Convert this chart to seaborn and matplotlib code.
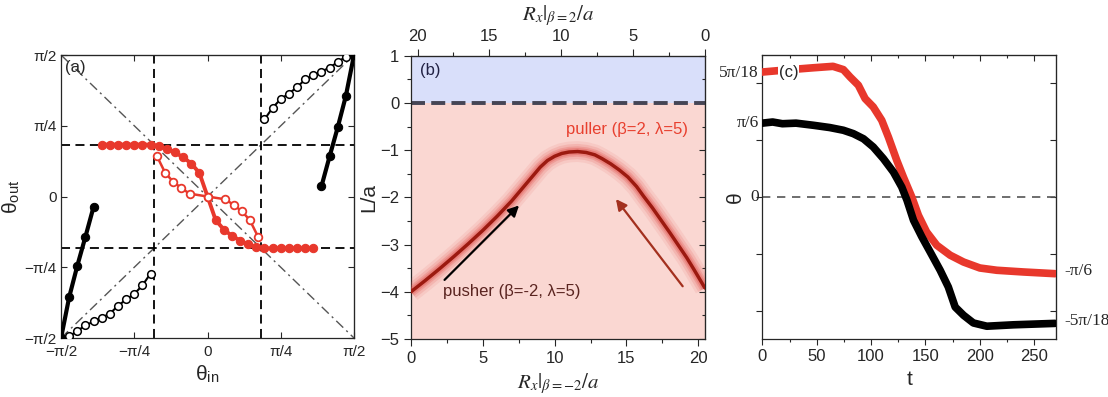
import numpy as np
import matplotlib
matplotlib.use("Agg")
import matplotlib.pyplot as plt
import matplotlib.transforms as mtrans
import seaborn as sns

sns.set_style("ticks")
plt.rcParams['font.family'] = ['Liberation Sans', 'DejaVu Sans']
plt.rcParams['mathtext.fontset'] = 'stix'

# ---- panel (a) data, degrees ----
red_fill_x = [-65, -60, -55, -50, -45, -40, -35, -30, -25, -20, -15, -10, -5, 0,
              5, 10, 15, 20, 25, 30, 35, 40, 45, 50, 55, 60, 65]
red_fill_y = [33, 33, 33, 33, 33, 33, 33, 32, 30.5, 28, 25, 21, 15, 0,
              -15, -21, -25, -28, -30.5, -32, -33, -33, -33, -33, -33, -33, -33]
red_open_x = [-31, -26, -21, -16, -11, 0, 11, 16, 21, 26, 31]
red_open_y = [25.5, 15, 9.3, 5.3, 1.8, 0, -1.8, -5.3, -9.3, -15, -25.5]
blk_fill_lx = [-90, -85, -80, -75, -70]
blk_fill_ly = [-90, -64, -44, -25.5, -6.5]
blk_fill_rx = [70, 75, 80, 85, 90]
blk_fill_ry = [6.5, 25.5, 44, 64, 90]
blk_open_lx = [-90, -85, -80, -75, -70, -65, -60, -55, -50, -45, -40, -35]
blk_open_ly = [-90, -89, -85.5, -82, -79.5, -77, -74.5, -69.5, -65.5, -62, -56.5, -49]
blk_open_rx = [35, 40, 45, 50, 55, 60, 65, 70, 75, 80, 85, 90]
blk_open_ry = [49, 56.5, 62, 65.5, 69.5, 74.5, 77, 79.5, 82, 85.5, 89, 90]
crit = 33
ticks_a = [-90, -45, 0, 45, 90]
ticklab_a = ['\u2212\u03c0/2', '\u2212\u03c0/4', '0', '\u03c0/4', '\u03c0/2']

# ---- panel (b) data ----
rx = [0, 1, 2, 3, 4, 5, 6, 7, 8, 9, 9.5, 10, 10.5, 11, 11.6, 12.2, 12.8, 13.3, 13.9,
      14.5, 15.1, 15.7, 16.2, 16.8, 17.4, 18, 18.6, 19.2, 19.7, 20.46]
La = [-4.0, -3.76, -3.51, -3.25, -2.98, -2.70, -2.40, -2.08, -1.72, -1.36, -1.22, -1.13,
      -1.07, -1.04, -1.03, -1.05, -1.10, -1.18, -1.29, -1.42, -1.57, -1.77, -1.98, -2.22,
      -2.48, -2.74, -3.01, -3.28, -3.53, -3.92]
rx_max = 20.46

# ---- panel (c) data (radians) ----
t_red = [0, 25.5, 47, 65, 74.5, 80.7, 88.3, 94.5, 102, 109.8, 116, 123.6, 129.7, 137.4,
         143.5, 151, 160.4, 172.7, 185, 200, 215.6, 240, 269]
th_red = [0.88, 0.897, 0.91, 0.92, 0.897, 0.845, 0.787, 0.693, 0.634, 0.54, 0.42, 0.258,
          0.14, 0.0, -0.129, -0.246, -0.34, -0.41, -0.458, -0.5, -0.516, -0.528, -0.54]
t_blk = [0, 9.5, 18.5, 31, 47, 62, 74.5, 83.7, 93, 102, 111.3, 120.5, 128.2, 133, 139,
         146.6, 154.3, 163.5, 171, 177.3, 185, 194, 206.4, 231, 269]
th_blk = [0.52, 0.528, 0.516, 0.52, 0.505, 0.489, 0.47, 0.446, 0.41, 0.352, 0.27, 0.176,
          0.07, -0.023, -0.164, -0.28, -0.387, -0.516, -0.634, -0.775, -0.833, -0.887,
          -0.91, -0.90, -0.89]
levels_left = [(50 * np.pi / 180, '5\u03c0/18'), (np.pi / 6, '\u03c0/6'), (0, '0')]
levels_right = [(-np.pi / 6, '-\u03c0/6'), (-50 * np.pi / 180, '-5\u03c0/18')]

RED = '#e8382c'
SERIF = ['Liberation Serif', 'DejaVu Serif']

fig = plt.figure(figsize=(11.08, 3.97), dpi=100)
axA = fig.add_axes([0.0551, 0.1486, 0.2644, 0.7128])
axB = fig.add_axes([0.3709, 0.1461, 0.2653, 0.7136])
axC = fig.add_axes([0.688, 0.1461, 0.2651, 0.7154])


def inward_twins(ax, xt=None, xminor=None, yt=None, yminor=None):
    # top / right tick marks pointing inward, no labels
    if xt is not None:
        tx = ax.secondary_xaxis('top')
        tx.set_xticks(xt)
        if xminor is not None:
            tx.set_xticks(xminor, minor=True)
        tx.tick_params(which='both', direction='in', labeltop=False, width=0.8)
        tx.tick_params(which='major', length=4)
        tx.tick_params(which='minor', length=2.5)
    if yt is not None:
        ty = ax.secondary_yaxis('right')
        ty.set_yticks(yt)
        if yminor is not None:
            ty.set_yticks(yminor, minor=True)
        ty.tick_params(which='both', direction='in', labelright=False, width=0.8)
        ty.tick_params(which='major', length=4)
        ty.tick_params(which='minor', length=2.5)


# ================= (a) =================
ax = axA
ax.plot([-90, 90], [-90, 90], color='#555555', lw=1, dashes=(7, 3, 1.5, 3))
ax.plot([-90, 90], [90, -90], color='#555555', lw=1, dashes=(7, 3, 1.5, 3))
for v in (-crit, crit):
    ax.axvline(v, color='black', lw=1.3, dashes=(5, 3))
    ax.axhline(v, color='black', lw=1.3, dashes=(5, 3))
sns.lineplot(x=red_fill_x, y=red_fill_y, ax=ax, sort=False, estimator=None, color=RED,
             lw=2.8, marker='o', markersize=6, markeredgecolor=RED, zorder=4)
sns.lineplot(x=red_open_x, y=red_open_y, ax=ax, sort=False, estimator=None, color=RED,
             lw=1.8, marker='o', markersize=5.5, markerfacecolor='white',
             markeredgecolor=RED, markeredgewidth=1.3, zorder=5)
for xs, ys in ((blk_open_lx, blk_open_ly), (blk_open_rx, blk_open_ry)):
    sns.lineplot(x=xs, y=ys, ax=ax, sort=False, estimator=None, color='black', lw=1.5,
                 marker='o', markersize=5.5, markerfacecolor='white',
                 markeredgecolor='black', markeredgewidth=1.1, zorder=5)
for xs, ys in ((blk_fill_lx, blk_fill_ly), (blk_fill_rx, blk_fill_ry)):
    sns.lineplot(x=xs, y=ys, ax=ax, sort=False, estimator=None, color='black', lw=3,
                 marker='o', markersize=6, markeredgecolor='black', zorder=6)
ax.set_xlim(-90, 90)
ax.set_ylim(-90, 90)
ax.set_xticks(ticks_a)
ax.set_xticklabels(ticklab_a, fontsize=11)
ax.set_yticks(ticks_a)
ax.set_yticklabels(ticklab_a, fontsize=11)
ax.tick_params(direction='in', length=4, width=0.8)
ax.tick_params(axis='x', pad=5)
ax.tick_params(axis='y', pad=3)
inward_twins(ax, xt=ticks_a, yt=ticks_a)
ax.set_xlabel('\u03b8$_\\mathregular{in}$', fontsize=15, labelpad=3)
ax.set_ylabel('\u03b8$_\\mathregular{out}$', fontsize=15, labelpad=2)
ax.text(-87.5, 82, '(a)', fontsize=12, va='center')
for s in ax.spines.values():
    s.set_linewidth(0.9)

# ================= (b) =================
ax = axB
ax.axhspan(0, 1, color='#d9dffa', lw=0, zorder=0)
ax.axhspan(-5, 0, color='#fad7d2', lw=0, zorder=0)
ax.axhline(0, color='#454555', lw=2.8, dashes=(3.6, 1.6), zorder=2)
for w, a in ((15, 0.10), (11, 0.16), (7.5, 0.24), (5, 0.35)):
    ax.plot(rx, La, color='#e0504a', lw=w, alpha=a, solid_capstyle='butt',
            solid_joinstyle='round', zorder=3)
sns.lineplot(x=rx, y=La, ax=ax, sort=False, estimator=None, color='#9c1a10', lw=2.5, zorder=4)
ax.annotate('', xy=(7.66, -2.13), xytext=(2.2, -3.79),
            arrowprops=dict(arrowstyle='-|>', color='black', lw=1.6, mutation_scale=16))
ax.annotate('', xy=(14.15, -1.99), xytext=(19.03, -3.93),
            arrowprops=dict(arrowstyle='-|>', color='#a3301e', lw=1.6, mutation_scale=16))
ax.text(10.8, -0.57, 'puller (\u03b2=2, \u03bb=5)', color='#e8402f', fontsize=12, va='center')
ax.text(2.2, -4.0, 'pusher (\u03b2=-2, \u03bb=5)', color='#5a2420', fontsize=12, va='center')
ax.text(0.6, 0.68, '(b)', fontsize=12, va='center', color='#222244')
ax.set_xlim(0, rx_max)
ax.set_ylim(-5, 1)
ax.set_xticks([0, 5, 10, 15, 20])
ax.set_xticks(np.arange(2.5, 20.5, 5), minor=True)
ax.set_yticks([1, 0, -1, -2, -3, -4, -5])
ax.set_yticks(np.arange(-4.5, 1, 1), minor=True)
ax.tick_params(axis='both', which='major', labelsize=12, length=5, width=0.8)
ax.tick_params(axis='both', which='minor', length=3, width=0.8)
inward_twins(ax, yt=[1, 0, -1, -2, -3, -4, -5], yminor=np.arange(-4.5, 1, 1))
ax.set_xlabel('$R_x|_{\\beta=-2}/a$', fontsize=15, labelpad=4)
ax.set_ylabel('L/a', fontsize=15, labelpad=1)
top = ax.secondary_xaxis('top', functions=(lambda v: rx_max - v, lambda v: rx_max - v))
top.set_xticks([20, 15, 10, 5, 0])
top.set_xticks(np.arange(2.5, 20.5, 5), minor=True)
top.tick_params(which='major', labelsize=12, length=5, width=0.8)
top.tick_params(which='minor', length=3, width=0.8)
top.set_xlabel('$R_x|_{\\beta=2}/a$', fontsize=15, labelpad=6)
for s in ax.spines.values():
    s.set_linewidth(0.9)

# ================= (c) =================
ax = axC
ax.axhline(0, color='#555555', lw=1.2, dashes=(5, 4), zorder=1)
sns.lineplot(x=t_red, y=th_red, ax=ax, sort=False, estimator=None, color=RED, lw=5.5, zorder=3)
sns.lineplot(x=t_blk, y=th_blk, ax=ax, sort=False, estimator=None, color='black', lw=5.5, zorder=3)
ax.set_xlim(0, 270)
ax.set_ylim(-1, 1)
ax.set_xticks([0, 50, 100, 150, 200, 250])
ax.set_xticks(np.arange(25, 270, 50), minor=True)
ax.set_yticks([-0.8, -0.4, 0, 0.4, 0.8])
ax.set_yticklabels([])
ax.tick_params(axis='x', which='major', labelsize=12, length=4, width=0.8)
ax.tick_params(axis='x', which='minor', length=2.5, width=0.8)
ax.tick_params(axis='y', length=4, width=0.8)
inward_twins(ax, xt=[0, 50, 100, 150, 200, 250], xminor=np.arange(25, 270, 50),
             yt=[-0.8, -0.4, 0, 0.4, 0.8])
trans_l = mtrans.blended_transform_factory(ax.transAxes, ax.transData)
for val, lab in levels_left:
    ax.text(-0.012, val, lab, transform=trans_l, ha='right', va='center', fontsize=12.5,
            family=SERIF)
for val, lab in levels_right:
    ax.text(1.03, val, lab, transform=trans_l, ha='left', va='center', fontsize=12.5,
            family=SERIF)
ax.text(15, 0.88, '(c)', fontsize=12, va='center', zorder=5,
        bbox=dict(facecolor='white', edgecolor='none', pad=0.5))
ax.set_xlabel('t', fontsize=15, labelpad=4)
ax.set_ylabel('\u03b8', fontsize=15, labelpad=5)
for s in ax.spines.values():
    s.set_linewidth(0.9)

fig.savefig('out.png', dpi=100)
